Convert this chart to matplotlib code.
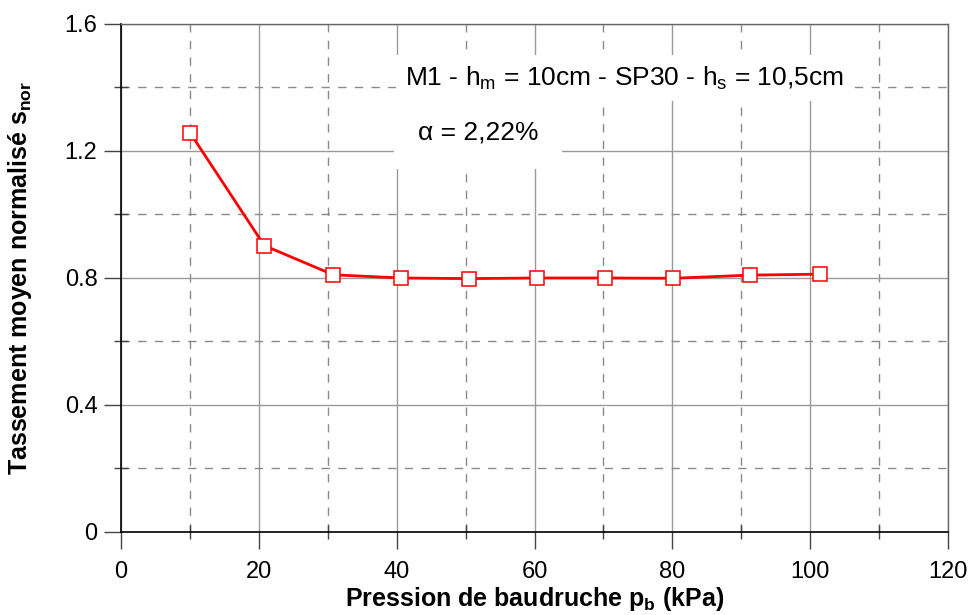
import matplotlib
matplotlib.use("Agg")
import matplotlib.pyplot as plt
from matplotlib.ticker import MultipleLocator

# données
pression = [10.0, 20.8, 30.8, 40.6, 50.5, 60.4, 70.2, 80.1, 91.3, 101.4]
tassement = [1.258, 0.902, 0.810, 0.800, 0.798, 0.800, 0.800, 0.799, 0.809, 0.812]

titre = r"M1 - h$_\mathregular{m}$ = 10cm - SP30 - h$_\mathregular{s}$ = 10,5cm"
alpha_txt = "α = 2,22%"

police = "Liberation Sans"
plt.rcParams["font.family"] = [police, "DejaVu Sans"]
plt.rcParams["mathtext.fontset"] = "custom"
plt.rcParams["mathtext.rm"] = police
plt.rcParams["mathtext.it"] = police
plt.rcParams["mathtext.bf"] = police + ":bold"

fig = plt.figure(figsize=(9.72, 6.15), dpi=100)
ax = fig.add_axes([0.1245, 0.135, 0.8508, 0.826])

ax.plot(pression, tassement, color="red", lw=2, marker="s", markersize=9.5,
        markerfacecolor="white", markeredgecolor="red", markeredgewidth=1.1, zorder=5)

ax.set_xlim(0, 120)
ax.set_ylim(0, 1.6)
ax.xaxis.set_major_locator(MultipleLocator(20))
ax.xaxis.set_minor_locator(MultipleLocator(10))
ax.yaxis.set_major_locator(MultipleLocator(0.4))
ax.yaxis.set_minor_locator(MultipleLocator(0.2))
ax.yaxis.set_major_formatter(lambda v, p: "0" if v == 0 else f"{v:.1f}")

ax.grid(which="major", color="#9a9a9a", lw=1, ls="-")
ax.grid(which="minor", color="#8a8a8a", lw=1, ls=(0, (6, 6)))
ax.set_axisbelow(True)

ax.tick_params(which="major", direction="out", length=12, width=1, color="#444",
               labelsize=17, pad=5)
ax.tick_params(axis="x", which="major", pad=9)
ax.tick_params(which="minor", direction="inout", length=10, width=1, color="#444")

for s in ["left", "bottom"]:
    ax.spines[s].set_color("black")
    ax.spines[s].set_linewidth(1.2)
for s in ["top", "right"]:
    ax.spines[s].set_color("#666")
    ax.spines[s].set_linewidth(1)

ax.set_xlabel(r"Pression de baudruche p$_\mathbf{b}$ (kPa)", fontsize=18, fontweight="bold", labelpad=1)
ax.set_ylabel(r"Tassement moyen normalisé s$_\mathbf{nor}$", fontsize=18, fontweight="bold", labelpad=22)

ax.text(41.2, 1.43, titre, fontsize=19, va="center", ha="left", zorder=4,
        bbox=dict(boxstyle="square,pad=0.35", facecolor="white", edgecolor="none"))
ax.text(43.1, 1.257, alpha_txt, fontsize=19, va="center", ha="left", zorder=4,
        bbox=dict(boxstyle="square,pad=0.9", facecolor="white", edgecolor="none"))

plt.savefig("out.png", dpi=100)
